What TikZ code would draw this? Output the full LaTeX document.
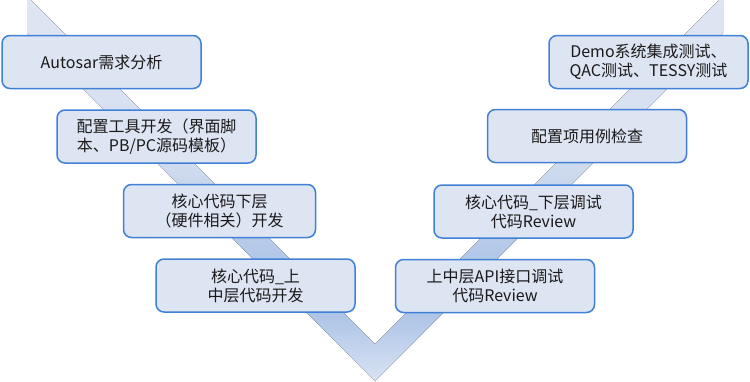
\documentclass[tikz,border=0pt]{standalone}
\usepackage{fontspec}
\setmainfont{Noto Sans CJK SC}
\definecolor{boxline}{HTML}{4080D6}
\definecolor{boxfill}{HTML}{DDE5F2}
\definecolor{txt}{HTML}{1A1A1A}
\definecolor{va}{HTML}{DFE6F2}
\definecolor{vb}{HTML}{D3DEF0}
\definecolor{vc}{HTML}{A4BEE4}
\definecolor{vd}{HTML}{D9E3F3}
\begin{document}
\begin{tikzpicture}[x=1pt,y=-1pt,
  box/.style={draw=boxline, line width=1.5pt, fill=boxfill, rounded corners=8pt,
    inner sep=0pt, minimum width=199pt, minimum height=53pt,
    text=txt, align=center, font=\fontsize{16}{19}\selectfont}]
\useasboundingbox (0,0) rectangle (750,381);
% V shaped band
\begin{scope}
\clip (27,0) -- (31,0) -- (375,344) -- (719,0) -- (723,0) -- (723,33) -- (375,381) -- (27,33) -- cycle;
\fill[top color=va, bottom color=vb] (0,-1) rectangle (750,151);
\fill[top color=vb, bottom color=vc] (0,150) rectangle (750,301);
\fill[top color=vc, bottom color=vd] (0,300) rectangle (750,382);
\end{scope}
% left boxes
\node[box] (l1) at (101.5,62) {Autosar需求分析};
\node[box] (l2) at (156.5,136.5) {配置工具开发（界面脚\\本、PB/PC源码模板）};
\node[box, minimum width=192pt] (l3) at (219.5,211) {核心代码下层\\（硬件相关）开发};
\node[box] (l4) at (255.5,285.5) {核心代码\_上\\中层代码开发};
% right boxes
\node[box] (r1) at (648.5,62) {Demo系统集成测试、\\QAC测试、TESSY测试};
\node[box] (r2) at (587,136) {配置项用例检查};
\node[box] (r3) at (533.5,211.5) {核心代码\_下层调试\\代码Review};
\node[box] (r4) at (495,286) {上中层API接口调试\\代码Review};
\end{tikzpicture}
\end{document}
